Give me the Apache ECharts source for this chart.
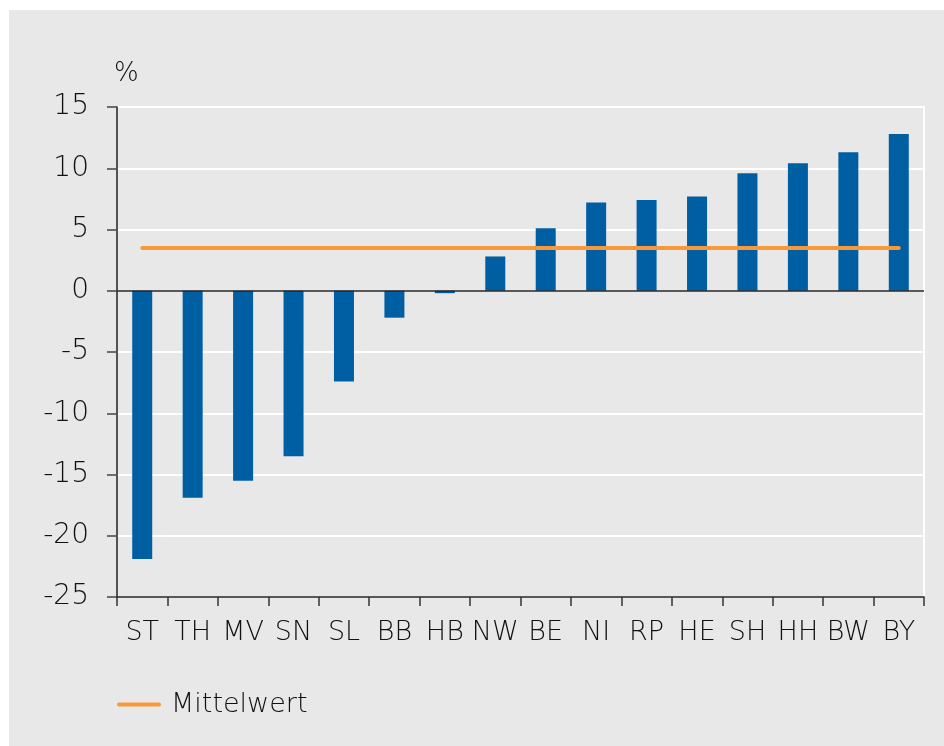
<!DOCTYPE html>
<html>
<head>
<meta charset="utf-8">
<script src="https://cdn.jsdelivr.net/npm/echarts@6/dist/echarts.min.js"></script>
<style>
  html, body { margin: 0; padding: 0; background: #ffffff; }
  #main { position: absolute; left: 9px; top: 10px; width: 935px; height: 736px; }
</style>
</head>
<body>
<div id="main"></div>
<script>
var laender = ['ST', 'TH', 'MV', 'SN', 'SL', 'BB', 'HB', 'NW', 'BE', 'NI', 'RP', 'HE', 'SH', 'HH', 'BW', 'BY'];
var veraenderung = [-21.9, -16.9, -15.5, -13.5, -7.4, -2.2, -0.2, 2.8, 5.1, 7.2, 7.4, 7.7, 9.6, 10.4, 11.3, 12.8];
var mittelwert = [3.5, 3.5, 3.5, 3.5, 3.5, 3.5, 3.5, 3.5, 3.5, 3.5, 3.5, 3.5, 3.5, 3.5, 3.5, 3.5];

var schrift = 'DejaVu Sans';
var gewicht = 200;
var textfarbe = '#111';
var myChart = echarts.init(document.getElementById('main'));

var option = {
	backgroundColor: '#e8e8e8',
	animation: false,
	textStyle: { fontFamily: schrift, fontWeight: gewicht },
	grid: {
		left: 108,
		right: 20,
		top: 97,
		bottom: 149,
		show: true,
		borderWidth: 0,
		backgroundColor: 'transparent'
	},
	legend: {
		data: ['Mittelwert'],
		left: 103,
		top: 676,
		itemWidth: 40,
		itemHeight: 4,
		lineStyle: { width: 4 },
		textStyle: { fontSize: 27, color: textfarbe, fontFamily: schrift, fontWeight: gewicht, padding: [0, 0, 0, 7] }
	},
	xAxis: {
		type: 'category',
		data: laender,
		axisLine: { onZero: false, lineStyle: { color: '#222', width: 1.5 } },
		axisTick: { show: true, length: 9, alignWithLabel: false, lineStyle: { color: '#333', width: 1.5 } },
		axisLabel: { color: textfarbe, fontSize: 27, fontWeight: gewicht, margin: 22, interval: 0 },
		splitLine: { show: false }
	},
	yAxis: [
		{
			type: 'value',
			min: -25,
			max: 15,
			interval: 5,
			name: '%',
			nameLocation: 'end',
			nameGap: 20,
			nameTextStyle: { color: textfarbe, fontSize: 26, fontWeight: gewicht, align: 'left', padding: [0, 0, 0, -3] },
			axisLine: { show: true, lineStyle: { color: '#222', width: 1.5 } },
			axisTick: { show: true, length: 10, lineStyle: { color: '#444', width: 1.5 } },
			axisLabel: { color: textfarbe, fontSize: 28, fontWeight: gewicht, margin: 28 },
			splitLine: { show: true, lineStyle: { color: '#ffffff', width: 2 } }
		},
		{
			// rechter Rahmen
			type: 'value',
			position: 'right',
			min: -25,
			max: 15,
			interval: 5,
			axisLine: { show: true, lineStyle: { color: '#ffffff', width: 2 } },
			axisTick: { show: false },
			axisLabel: { show: false },
			splitLine: { show: false }
		}
	],
	series: [
		{
			name: 'Veränderung',
			type: 'bar',
			data: veraenderung,
			barWidth: 20,
			itemStyle: { color: '#005fa3' },
			markLine: {
				silent: true,
				symbol: 'none',
				label: { show: false },
				lineStyle: { color: '#222', width: 1.5, type: 'solid' },
				data: [{ yAxis: 0 }]
			}
		},
		{
			name: 'Mittelwert',
			type: 'line',
			data: mittelwert,
			symbol: 'none',
			z: 5,
			lineStyle: { color: '#f7983a', width: 4, cap: 'round' },
			itemStyle: { color: '#f7983a' }
		}
	]
};

myChart.setOption(option);
</script>
</body>
</html>
